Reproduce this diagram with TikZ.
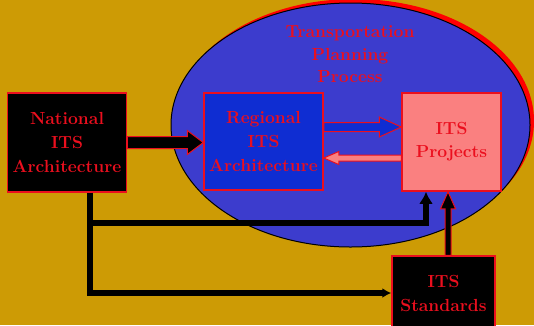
\documentclass[tikz,border=0pt]{standalone}
\usetikzlibrary{calc,arrows.meta}

\definecolor{gold}{RGB}{205,155,5}
\definecolor{ellblau}{RGB}{60,60,205}
\definecolor{regblau}{RGB}{15,45,210}
\definecolor{rosa}{RGB}{250,128,128}
\definecolor{rot}{RGB}{235,15,30}
\definecolor{schatten}{RGB}{255,0,0}
\definecolor{schwarz}{RGB}{0,0,0}

\begin{document}
\begin{tikzpicture}[x=1pt,y=-1pt,>=latex,thick,
	kasten/.style={draw=rot,line width=1.5pt,text=rot,align=center,inner sep=0pt,
		font=\fontsize{17.5}{24}\selectfont\bfseries},
	titel/.style={text=rot,align=center,inner sep=0pt,
		font=\fontsize{17.5}{22.5}\selectfont\bfseries},
	linie/.style={line width=6pt,draw=schwarz},
	rand/.style={draw=rot,line width=1pt,line join=miter}]

% Blockpfeil: Start, Ziel, halbe Schaftbreite, halbe Spitzenbreite, Spitzenlaenge, Farbe
\def\blockpfeil#1#2#3#4#5#6{
	\coordinate (pf-h) at ($(#2)!#5!(#1)$);
	\filldraw[rand,fill=#6]
		($(#1)!#3!90:(#2)$) -- ($(pf-h)!#3!90:(#2)$) -- ($(pf-h)!#4!90:(#2)$) -- (#2)
		-- ($(pf-h)!#4!-90:(#2)$) -- ($(pf-h)!#3!-90:(#2)$) -- ($(#1)!#3!-90:(#2)$) -- cycle;
}

\fill[gold] (0,0) rectangle (534,325);
\useasboundingbox (0,0) rectangle (534,325);

% Planungsprozess
\fill[schatten] (354.5,121) ellipse [x radius=179.5,y radius=122];
\filldraw[fill=ellblau,draw=black,line width=1pt] (350.5,125) ellipse [x radius=179.5,y radius=122];
\node[titel] (tpp) at (350,54.5) {Transportation\\Planning\\Process};

% Kaesten
\node[kasten,fill=schwarz,minimum width=119pt,minimum height=99pt] (nat) at (67,142.5) {National\\ITS\\Architecture};
\node[kasten,fill=regblau,minimum width=119pt,minimum height=97pt] (reg) at (263.5,141.5) {Regional\\ITS\\Architecture};
\node[kasten,fill=rosa,minimum width=99pt,minimum height=98pt,
	font=\fontsize{17.5}{23}\selectfont\bfseries] (proj) at (451.5,142) {ITS\\Projects};
\node[kasten,fill=schwarz,minimum width=103pt,minimum height=74pt] (std) at (443.5,293) {ITS\\Standards};

% Verbindungen
\coordinate (nr) at (nat.east -| reg.west);
\blockpfeil{nat.east}{nr}{6pt}{12pt}{16pt}{schwarz}

\coordinate (rp1) at ([yshift=14.5pt]reg.east);
\coordinate (rp2) at (rp1 -| proj.west);
\blockpfeil{rp1}{rp2}{4.5pt}{10pt}{22pt}{regblau}

\coordinate (pr1) at ([yshift=-16pt]proj.west);
\coordinate (pr2) at (pr1 -| reg.east);
\blockpfeil{pr1}{pr2}{3pt}{6.5pt}{15pt}{rosa}

\coordinate (nfuss) at ([xshift=23pt]nat.south);
\coordinate (abzw) at (nfuss |- 0,223);
\coordinate (pfuss) at ([xshift=-25.5pt]proj.south);
\draw[linie,-{Latex[length=9pt,width=10pt]}] (nfuss) |- (std.west);
\draw[linie,-{Latex[length=12pt,width=14pt]}] (abzw) -| (pfuss);

\coordinate (sp1) at ([xshift=4.5pt]std.north);
\coordinate (sp2) at (sp1 |- proj.south);
\blockpfeil{sp1}{sp2}{3pt}{7.5pt}{17pt}{schwarz}

\end{tikzpicture}
\end{document}
